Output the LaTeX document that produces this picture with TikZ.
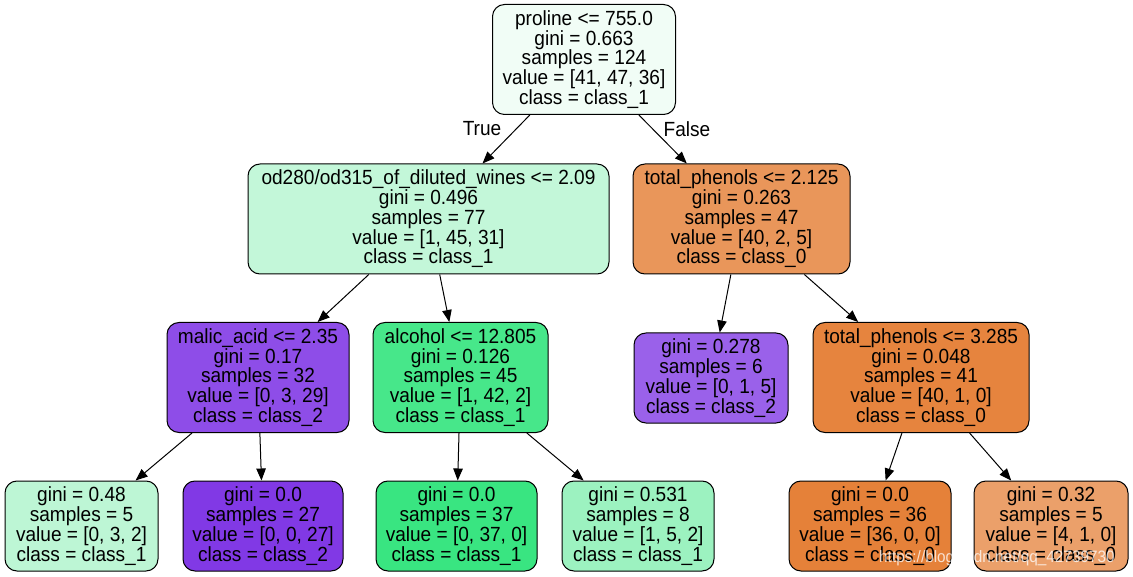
\documentclass[tikz,border=0pt]{standalone}
\usepackage{fontspec}
\setmainfont{Liberation Sans}[FakeStretch=0.93]
\usetikzlibrary{arrows.meta}
\definecolor{cRoot}{RGB}{241,253,246}
\definecolor{cOd}{RGB}{195,247,217}
\definecolor{cTpA}{RGB}{233,150,90}
\definecolor{cMal}{RGB}{142,77,232}
\definecolor{cAlc}{RGB}{71,231,138}
\definecolor{cPur}{RGB}{154,97,234}
\definecolor{cTpB}{RGB}{230,132,62}
\definecolor{cLa}{RGB}{189,246,213}
\definecolor{cLb}{RGB}{129,57,229}
\definecolor{cLc}{RGB}{57,229,129}
\definecolor{cLd}{RGB}{156,242,192}
\definecolor{cLe}{RGB}{229,129,57}
\definecolor{cLf}{RGB}{235,160,106}
\begin{document}
\begin{tikzpicture}[x=1pt,y=-1pt,
  tn/.style={draw=black, line width=1pt, rounded corners=12pt, align=center,
    inner sep=0pt, font=\fontsize{20.5}{19.75}\selectfont},
  big/.style={tn, minimum height=110pt},
  small/.style={tn, minimum height=90pt},
  edge/.style={-{Triangle[length=12pt,width=9.5pt]}, line width=1pt},
  lbl/.style={font=\fontsize{20.5}{19.75}\selectfont, inner sep=0pt}]
\useasboundingbox[fill=white] (0,0) rectangle (1133,577);

\node[big, fill=cRoot, minimum width=183pt] (root) at (584,59.5)
  {proline <= 755.0\\gini = 0.663\\samples = 124\\value = [41, 47, 36]\\class = class\_1};
\node[big, fill=cOd, minimum width=361pt] (od) at (428.5,219)
  {od280/od315\_of\_diluted\_wines <= 2.09\\gini = 0.496\\samples = 77\\value = [1, 45, 31]\\class = class\_1};
\node[big, fill=cTpA, minimum width=217pt] (tpa) at (741.5,219)
  {total\_phenols <= 2.125\\gini = 0.263\\samples = 47\\value = [40, 2, 5]\\class = class\_0};
\node[big, fill=cMal, minimum width=182pt] (mal) at (258,377.5)
  {malic\_acid <= 2.35\\gini = 0.17\\samples = 32\\value = [0, 3, 29]\\class = class\_2};
\node[big, fill=cAlc, minimum width=175pt] (alc) at (460.5,377.5)
  {alcohol <= 12.805\\gini = 0.126\\samples = 45\\value = [1, 42, 2]\\class = class\_1};
\node[small, fill=cPur, minimum width=154pt] (pur) at (711,378)
  {gini = 0.278\\samples = 6\\value = [0, 1, 5]\\class = class\_2};
\node[big, fill=cTpB, minimum width=216pt] (tpb) at (921,377.5)
  {total\_phenols <= 3.285\\gini = 0.048\\samples = 41\\value = [40, 1, 0]\\class = class\_0};

\node[small, fill=cLa, minimum width=153pt] (la) at (81.5,526)
  {gini = 0.48\\samples = 5\\value = [0, 3, 2]\\class = class\_1};
\node[small, fill=cLb, minimum width=160pt] (lb) at (263,526)
  {gini = 0.0\\samples = 27\\value = [0, 0, 27]\\class = class\_2};
\node[small, fill=cLc, minimum width=161pt] (lc) at (456.5,526)
  {gini = 0.0\\samples = 37\\value = [0, 37, 0]\\class = class\_1};
\node[small, fill=cLd, minimum width=152pt] (ld) at (638,526)
  {gini = 0.531\\samples = 8\\value = [1, 5, 2]\\class = class\_1};
\node[small, fill=cLe, minimum width=162pt] (le) at (870,526)
  {gini = 0.0\\samples = 36\\value = [36, 0, 0]\\class = class\_0};
\node[small, fill=cLf, minimum width=154pt] (lf) at (1051,526)
  {gini = 0.32\\samples = 5\\value = [4, 1, 0]\\class = class\_0};

\draw[edge] (root) -- (od);
\draw[edge] (root) -- (tpa);
\draw[edge] (od) -- (mal);
\draw[edge] (od) -- (alc);
\draw[edge] (tpa) -- (pur);
\draw[edge] (tpa) -- (tpb);
\draw[edge] (mal) -- (la);
\draw[edge] (mal) -- (lb);
\draw[edge] (alc) -- (lc);
\draw[edge] (alc) -- (ld);
\draw[edge] (tpb) -- (le);
\draw[edge] (tpb) -- (lf);

\node[lbl] (lblT) at (482,129) {True};
\node[lbl] (lblF) at (687,129) {False};

\node[anchor=base west, inner sep=0pt, text=white, text opacity=0.75,
  font=\fontsize{16.5}{16.5}\selectfont] (wm) at (879,562)
  {https://blog.csdn.net/qq\_42739730};
\end{tikzpicture}
\end{document}
